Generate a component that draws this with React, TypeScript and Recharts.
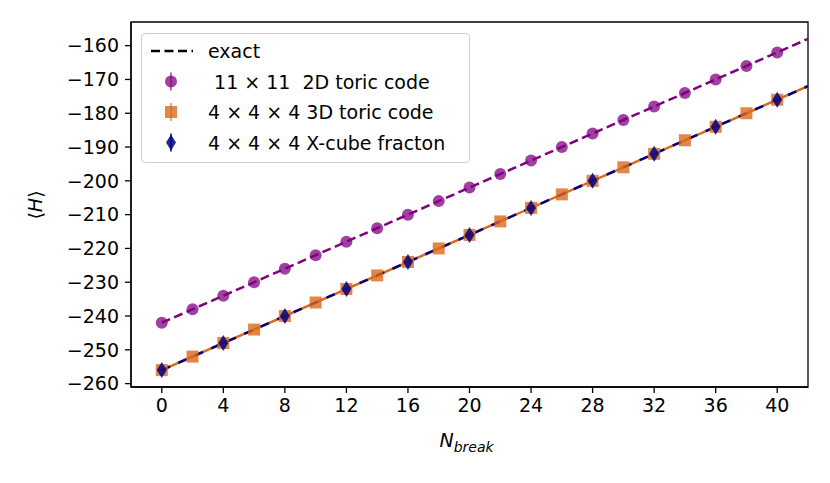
import React from "react";
import {
  ComposedChart,
  Line,
  Scatter,
  XAxis,
  YAxis,
  ReferenceArea,
} from "recharts";

// N_break values where samples were taken
const toricX = [0, 2, 4, 6, 8, 10, 12, 14, 16, 18, 20, 22, 24, 26, 28, 30, 32, 34, 36, 38, 40];
const toric2D = [
  -242, -238, -234, -230, -226, -222, -218, -214, -210, -206, -202,
  -198, -194, -190, -186, -182, -178, -174, -170, -166, -162,
];
const toric3D = [
  -256, -252, -248, -244, -240, -236, -232, -228, -224, -220, -216,
  -212, -208, -204, -200, -196, -192, -188, -184, -180, -176,
];
const fractonX = [0, 4, 8, 12, 16, 20, 24, 28, 32, 36, 40];
const fracton = [-256, -248, -240, -232, -224, -216, -208, -200, -192, -184, -176];

// exact lines (endpoints)
const exactX = [0, 42];
const exact2D = [-242, -158];
const exact3D = [-256, -172];

const xTicks = [0, 4, 8, 12, 16, 20, 24, 28, 32, 36, 40];
const yTicks = [-260, -250, -240, -230, -220, -210, -200, -190, -180, -170, -160];

const PURPLE = "#800080";
const ORANGE = "#d9691c";
const NAVY = "#000080";
const FONT = "'DejaVu Sans', sans-serif";

const toPts = (xs: number[], ys: number[]) => xs.map((x, i) => ({ x, y: ys[i] }));

const circle = (props: any) => (
  <circle cx={props.cx} cy={props.cy} r={6} fill={PURPLE} fillOpacity={0.75} />
);
const square = (props: any) => (
  <rect x={props.cx - 6} y={props.cy - 6} width={12} height={12} fill={ORANGE} fillOpacity={0.8} />
);
const diamond = (props: any) => {
  const { cx, cy } = props;
  return (
    <path
      d={`M${cx},${cy - 8} L${cx + 5},${cy} L${cx},${cy + 8} L${cx - 5},${cy} Z`}
      fill={NAVY}
      fillOpacity={0.85}
    />
  );
};

function LegendBox() {
  const rows = [
    { label: "exact", kind: "line" },
    { label: " 11 × 11  2D toric code", kind: "circle" },
    { label: "4 × 4 × 4 3D toric code", kind: "square" },
    { label: "4 × 4 × 4 X-cube fracton", kind: "diamond" },
  ];
  return (
    <div
      style={{
        position: "absolute",
        left: 141,
        top: 33,
        width: 327,
        height: 128,
        border: "1.5px solid #d0d0d0",
        borderRadius: 4,
        background: "rgba(255,255,255,0.85)",
        fontFamily: FONT,
        fontSize: 19,
        color: "#000",
      }}
    >
      <svg width={60} height={128} style={{ position: "absolute", left: 0, top: 0 }}>
        {rows.map((r, i) => {
          const cy = 17 + i * 30.5;
          if (r.kind === "line")
            return (
              <line key={i} x1={9} x2={51} y1={cy} y2={cy} stroke="#000" strokeWidth={2.5} strokeDasharray="9 4.5" />
            );
          if (r.kind === "circle")
            return (
              <g key={i}>
                <line x1={29} x2={29} y1={cy - 9} y2={cy + 9} stroke={PURPLE} strokeOpacity={0.75} strokeWidth={1.5} />
                <circle cx={29} cy={cy} r={6} fill={PURPLE} fillOpacity={0.75} />
              </g>
            );
          if (r.kind === "square")
            return (
              <g key={i}>
                <line x1={29} x2={29} y1={cy - 9} y2={cy + 9} stroke={ORANGE} strokeOpacity={0.8} strokeWidth={1.5} />
                <rect x={23} y={cy - 6} width={12} height={12} fill={ORANGE} fillOpacity={0.8} />
              </g>
            );
          return (
            <g key={i}>
              <line x1={29} x2={29} y1={cy - 9} y2={cy + 9} stroke={NAVY} strokeWidth={1.5} />
              <path d={`M29,${cy - 8} L34,${cy} L29,${cy + 8} L24,${cy} Z`} fill={NAVY} fillOpacity={0.85} />
            </g>
          );
        })}
      </svg>
      {rows.map((r, i) => (
        <div
          key={i}
          style={{
            position: "absolute",
            left: 66,
            top: 17 + i * 30.5 - 12,
            lineHeight: "24px",
            whiteSpace: "pre",
          }}
        >
          {r.label}
        </div>
      ))}
    </div>
  );
}

const XLabel = (props: any) => {
  const { viewBox } = props;
  const cx = viewBox.x + viewBox.width / 2;
  return (
    <text x={cx - 30} y={447} fontFamily={FONT} fontSize={19} fontStyle="italic" fill="#000">
      N
      <tspan fontSize={14} dy={5}>
        break
      </tspan>
    </text>
  );
};

const YLabel = () => (
  <text
    x={42}
    y={205}
    transform="rotate(-90 42 205)"
    textAnchor="middle"
    fontFamily={FONT}
    fontSize={19}
    fill="#000"
  >
    ⟨<tspan fontStyle="italic">H</tspan>⟩
  </text>
);

export default function App() {
  const tickStyle = { fontFamily: FONT, fontSize: 19, fill: "#000" };
  return (
    <div style={{ position: "absolute", left: 0, top: 0, width: 830, height: 483, background: "#fff" }}>
      <ComposedChart width={830} height={483} margin={{ top: 22, right: 22, bottom: 46, left: 61 }}>
        <XAxis
          type="number"
          dataKey="x"
          domain={[-2, 42]}
          ticks={xTicks}
          interval={0}
          allowDataOverflow
          height={50}
          tick={tickStyle}
          tickSize={6}
          tickMargin={6}
          axisLine={{ stroke: "#000", strokeWidth: 1.3 }}
          tickLine={{ stroke: "#000", strokeWidth: 1.3 }}
          label={<XLabel />}
        />
        <YAxis
          type="number"
          dataKey="y"
          domain={[-261, -153]}
          ticks={yTicks}
          interval={0}
          allowDataOverflow
          width={70}
          tick={tickStyle}
          tickSize={6}
          tickMargin={6}
          axisLine={{ stroke: "#000", strokeWidth: 1.3 }}
          tickLine={{ stroke: "#000", strokeWidth: 1.3 }}
          tickFormatter={(v: number) => `−${Math.abs(v)}`}
          label={<YLabel />}
        />
        <ReferenceArea
          x1={-2}
          x2={42}
          y1={-261}
          y2={-153}
          fill="none"
          stroke="#000"
          strokeWidth={1.3}
          ifOverflow="visible"
        />
        <Scatter data={toPts(toricX, toric2D)} shape={circle} isAnimationActive={false} />
        <Scatter data={toPts(toricX, toric3D)} shape={square} isAnimationActive={false} />
        <Scatter data={toPts(fractonX, fracton)} shape={diamond} isAnimationActive={false} />
        <Line
          data={toPts(exactX, exact2D)}
          dataKey="y"
          type="linear"
          stroke={PURPLE}
          strokeWidth={2.5}
          strokeDasharray="9 4.5"
          dot={false}
          activeDot={false}
          isAnimationActive={false}
        />
        <Line
          data={toPts(exactX, exact3D)}
          dataKey="y"
          type="linear"
          stroke={ORANGE}
          strokeWidth={2.5}
          dot={false}
          activeDot={false}
          isAnimationActive={false}
        />
        <Line
          data={toPts(exactX, exact3D)}
          dataKey="y"
          type="linear"
          stroke={NAVY}
          strokeWidth={2.5}
          strokeDasharray="9 9"
          dot={false}
          activeDot={false}
          isAnimationActive={false}
        />
      </ComposedChart>
      <LegendBox />
    </div>
  );
}
